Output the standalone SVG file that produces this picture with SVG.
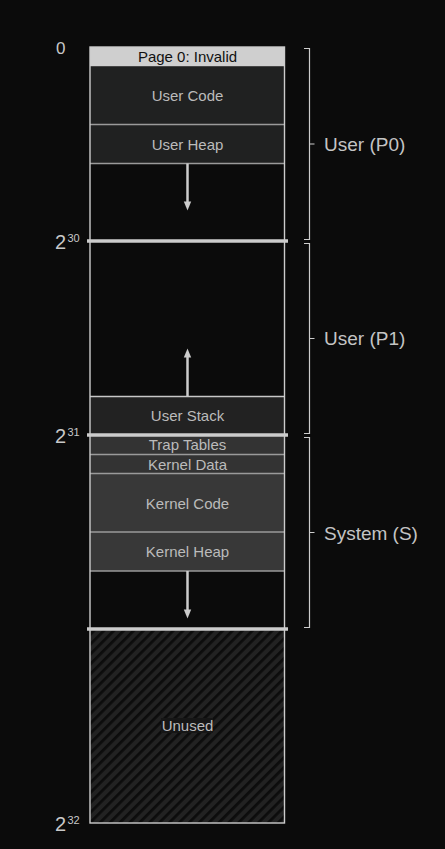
<svg xmlns="http://www.w3.org/2000/svg" width="445" height="849" viewBox="0 0 445 849">
<defs>
<style>
.lbl{font-family:"Liberation Sans",Arial,sans-serif;font-size:15px;fill:#bbbbbb;text-anchor:middle}
.side{font-family:"Liberation Sans",Arial,sans-serif;font-size:19px;fill:#c4c4c4}
.addr{font-family:"Liberation Sans",Arial,sans-serif;font-size:20px;fill:#c8c8c8}
.sup{font-family:"Liberation Sans",Arial,sans-serif;font-size:11px;fill:#c8c8c8}
.sep{stroke:#9a9a9a;stroke-width:1.5}
.bound{stroke:#cccccc;stroke-width:3.5}
.brk{fill:none;stroke:#cccccc;stroke-width:1.2}
.shaft{stroke:#cccccc;stroke-width:2.5}
.head{fill:#cccccc}
</style>
<pattern id="hatch" patternUnits="userSpaceOnUse" width="7" height="7" patternTransform="rotate(45)">
<rect width="7" height="7" fill="#222222"/>
<rect width="2.8" height="7" fill="#0c0c0c"/>
</pattern>
</defs>
<rect width="445" height="849" fill="#0b0b0b"/>

<g id="unused">
<rect x="90" y="629" width="194.5" height="194" fill="url(#hatch)"/>
<rect x="161" y="718" width="52" height="15" fill="#161616"/>
<text class="lbl" x="187.5" y="731">Unused</text>
</g>

<g id="page0">
<rect x="90" y="47" width="194.5" height="19.5" fill="#cfcfcf"/>
<text x="187.5" y="62" font-family="Liberation Sans, Arial, sans-serif" font-size="15" fill="#111" text-anchor="middle">Page 0: Invalid</text>
</g>
<g id="user-code">
<rect x="90" y="66.5" width="194.5" height="58" fill="#202121"/>
<text class="lbl" x="187.5" y="101">User Code</text>
</g>
<g id="user-heap">
<rect x="90" y="124.5" width="194.5" height="39" fill="#202121"/>
<line class="sep" x1="90" y1="124.5" x2="284.5" y2="124.5"/>
<line class="sep" x1="90" y1="163.5" x2="284.5" y2="163.5"/>
<text class="lbl" x="187.5" y="149.5">User Heap</text>
</g>
<g id="user-stack">
<rect x="90" y="396.5" width="194.5" height="38.5" fill="#222222"/>
<line x1="90" y1="396.5" x2="284.5" y2="396.5" stroke="#c8c8c8" stroke-width="1.5"/>
<text class="lbl" x="187.5" y="421">User Stack</text>
</g>
<g id="trap-tables">
<rect x="90" y="435" width="194.5" height="19" fill="#333333"/>
<text class="lbl" x="187.5" y="450">Trap Tables</text>
</g>
<g id="kernel-data">
<rect x="90" y="454.5" width="194.5" height="19" fill="#333333"/>
<line class="sep" x1="90" y1="454.5" x2="284.5" y2="454.5"/>
<text class="lbl" x="187.5" y="469.5">Kernel Data</text>
</g>
<g id="kernel-code">
<rect x="90" y="473.5" width="194.5" height="58.5" fill="#383838"/>
<line class="sep" x1="90" y1="473.5" x2="284.5" y2="473.5" stroke="#7a7a7a"/>
<text class="lbl" x="187.5" y="508.5">Kernel Code</text>
</g>
<g id="kernel-heap">
<rect x="90" y="532" width="194.5" height="39" fill="#383838"/>
<line class="sep" x1="90" y1="532" x2="284.5" y2="532" stroke="#7a7a7a"/>
<line class="sep" x1="90" y1="571" x2="284.5" y2="571" stroke="#7a7a7a"/>
<text class="lbl" x="187.5" y="557">Kernel Heap</text>
</g>

<g id="outline">
<rect x="90" y="47" width="194.5" height="776" fill="none" stroke="#cccccc" stroke-width="1.4"/>
</g>

<g id="connectors">
<line class="shaft" x1="187.5" y1="163.5" x2="187.5" y2="203"/>
<polygon class="head" points="183.8,201.5 191.2,201.5 187.5,210.5"/>
<line class="shaft" x1="187.5" y1="396" x2="187.5" y2="356"/>
<polygon class="head" points="183.8,357.5 191.2,357.5 187.5,348.5"/>
<line class="shaft" x1="187.5" y1="571" x2="187.5" y2="611"/>
<polygon class="head" points="183.8,609.5 191.2,609.5 187.5,618.5"/>
</g>

<g id="boundaries">
<line class="bound" x1="87" y1="241" x2="288" y2="241"/>
<line class="bound" x1="87" y1="435" x2="288" y2="435"/>
<line class="bound" x1="87" y1="629" x2="288" y2="629"/>
</g>

<g id="addresses">
<text x="56" y="54" font-family="Liberation Sans, Arial, sans-serif" font-size="17" fill="#c8c8c8">0</text>
<text class="addr" x="55" y="248.5">2</text><text class="sup" x="67.5" y="242">30</text>
<text class="addr" x="55" y="442.5">2</text><text class="sup" x="67.5" y="436">31</text>
<text class="addr" x="55" y="830.5">2</text><text class="sup" x="67.5" y="824">32</text>
</g>

<g id="bracket-p0">
<path class="brk" d="M304,48.5 H309.5 V239.5 H304 M309.5,144 H314.5"/>
<text class="side" x="324" y="151">User (P0)</text>
</g>
<g id="bracket-p1">
<path class="brk" d="M304,243.5 H309.5 V433.5 H304 M309.5,338.5 H314.5"/>
<text class="side" x="324" y="345">User (P1)</text>
</g>
<g id="bracket-s">
<path class="brk" d="M304,437.5 H309.5 V627.5 H304 M309.5,532.5 H314.5"/>
<text class="side" x="324" y="539.5">System (S)</text>
</g>
</svg>
